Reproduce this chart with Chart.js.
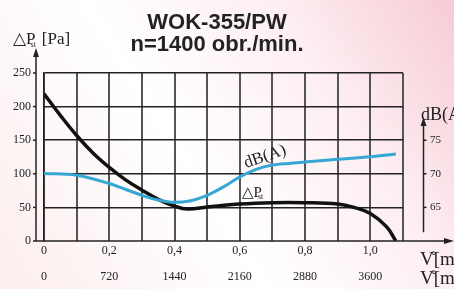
<!DOCTYPE html>
<html>
<head>
<meta charset="utf-8">
<script src="https://cdn.jsdelivr.net/npm/chart.js@4"></script>
<style>
  html, body { margin: 0; padding: 0; }
  #wrap { width: 454px; height: 289px; position: relative; }
</style>
</head>
<body>
<div id="wrap"><canvas id="chart"></canvas></div>
<script>
// flow [m3/s] and static pressure [Pa]
const flowPressure = [0, 0.05, 0.1, 0.15, 0.2, 0.25, 0.3, 0.35, 0.4, 0.44, 0.5, 0.6, 0.7, 0.8, 0.9, 0.95, 1.0, 1.05, 1.078];
const pressure = [219, 187, 157, 131, 109.5, 91, 75.7, 62, 52, 47.5, 50.5, 55, 57, 57, 55, 50, 41, 21, 0];

// flow [m3/s] and noise level [dB(A)]
const flowNoise = [0, 0.1, 0.2, 0.3, 0.35, 0.4, 0.45, 0.5, 0.55, 0.6, 0.65, 0.7, 0.75, 0.8, 0.9, 1.0, 1.078];
const noise = [70.05, 69.8, 68.55, 66.8, 66.1, 65.75, 66.0, 66.8, 68.05, 69.55, 70.65, 71.3, 71.55, 71.75, 72.15, 72.55, 72.95];

// tick labels
const flowLabels = ['0', '0,2', '0,4', '0,6', '0,8', '1,0'];
const flowHourLabels = ['0', '720', '1440', '2160', '2880', '3600'];
const noiseTicks = [65, 70, 75];

const serif = "'Liberation Serif', 'DejaVu Serif', serif";
const sans = "'Liberation Sans', Arial, sans-serif";

function toPoints(xs, ys) {
  return xs.map((x, i) => ({ x: x, y: ys[i] }));
}

const decor = {
  id: 'decor',
  beforeDraw(chart) {
    const ctx = chart.ctx;
    const w = chart.width, h = chart.height;
    const g = ctx.createLinearGradient(0, h, w, 0);
    g.addColorStop(0, '#fcedee');
    g.addColorStop(0.42, '#ffffff');
    g.addColorStop(0.72, '#fdeef1');
    g.addColorStop(1, '#f7cbd6');
    ctx.save();
    ctx.fillStyle = g;
    ctx.fillRect(0, 0, w, h);
    ctx.restore();
  },
  afterDraw(chart) {
    const ctx = chart.ctx;
    const a = chart.chartArea;
    const y = chart.scales.y, y2 = chart.scales.y2;
    const axX = a.left - 8;
    const base = y.getPixelForValue(0);
    ctx.save();
    ctx.strokeStyle = '#222';
    ctx.fillStyle = '#222';
    ctx.lineWidth = 1.5;

    // left axis with arrow
    ctx.beginPath();
    ctx.moveTo(axX, base);
    ctx.lineTo(axX, 52);
    ctx.stroke();
    ctx.beginPath();
    ctx.moveTo(axX, 48); ctx.lineTo(axX - 3, 57); ctx.lineTo(axX + 3, 57); ctx.closePath();
    ctx.fill();
    y.ticks.forEach(t => {
      const p = y.getPixelForValue(t.value);
      ctx.beginPath(); ctx.moveTo(axX - 3, p); ctx.lineTo(axX, p); ctx.stroke();
    });

    // bottom axis with arrow
    ctx.beginPath();
    ctx.moveTo(axX, base);
    ctx.lineTo(449, base);
    ctx.stroke();
    ctx.beginPath();
    ctx.moveTo(454, base); ctx.lineTo(444, base - 3); ctx.lineTo(444, base + 3); ctx.closePath();
    ctx.fill();

    // right dB axis with arrow
    const rx = a.right + 20.5;
    ctx.beginPath();
    ctx.moveTo(rx, y2.getPixelForValue(61.3));
    ctx.lineTo(rx, 122);
    ctx.stroke();
    ctx.beginPath();
    ctx.moveTo(rx, 117); ctx.lineTo(rx - 3, 126); ctx.lineTo(rx + 3, 126); ctx.closePath();
    ctx.fill();
    noiseTicks.forEach(v => {
      const p = y2.getPixelForValue(v);
      ctx.beginPath(); ctx.moveTo(rx, p); ctx.lineTo(rx + 3, p); ctx.stroke();
    });

    // titles
    ctx.textAlign = 'center';
    ctx.textBaseline = 'alphabetic';
    ctx.font = 'bold 22px ' + sans;
    ctx.fillText('WOK-355/PW', 217, 29);
    ctx.fillText('n=1400 obr./min.', 217, 51);

    // axis titles
    ctx.textAlign = 'left';
    ctx.font = '17px ' + serif;
    ctx.fillText('\u25B3P', 13, 44);
    let wP = ctx.measureText('\u25B3P').width;
    ctx.font = '8px ' + serif;
    ctx.fillText('st', 13 + wP - 5, 47);
    ctx.font = '17px ' + serif;
    ctx.fillText(' [Pa]', 13 + wP + 2, 44);

    ctx.font = '18px ' + serif;
    ctx.fillText('dB(A)', 421, 120);

    ctx.font = '19px ' + serif;
    ctx.fillText('V\u030A[m\u00B3/s]', 420, 265);
    ctx.fillText('V\u030A[m\u00B3/h]', 420, 284);

    // curve labels
    ctx.save();
    ctx.translate(246, 168);
    ctx.rotate(-0.33);
    ctx.font = '17px ' + serif;
    ctx.fillText('dB(A)', 0, 0);
    ctx.restore();

    ctx.font = '15px ' + serif;
    ctx.fillText('\u25B3P', 242, 197);
    wP = ctx.measureText('\u25B3P').width;
    ctx.font = '8px ' + serif;
    ctx.fillText('st', 242 + wP - 4, 199);
    ctx.restore();
  }
};

new Chart(document.getElementById('chart'), {
  type: 'line',
  data: {
    datasets: [
      {
        label: 'dB(A)',
        data: toPoints(flowNoise, noise),
        yAxisID: 'y2',
        borderColor: '#35a7d5',
        borderWidth: 3,
        pointRadius: 0,
        cubicInterpolationMode: 'monotone',
        fill: false
      },
      {
        label: 'Pst',
        data: toPoints(flowPressure, pressure),
        yAxisID: 'y',
        borderColor: '#111',
        borderWidth: 3.5,
        pointRadius: 0,
        tension: 0.4,
        fill: false
      }
    ]
  },
  options: {
    responsive: true,
    maintainAspectRatio: false,
    animation: false,
    events: [],
    layout: { padding: { top: 73, left: 0, right: 0, bottom: 0 } },
    plugins: { legend: { display: false }, title: { display: false }, tooltip: { enabled: false } },
    scales: {
      x: {
        type: 'linear',
        min: 0,
        max: 1.1,
        afterFit(s) { s.height = 48; },
        border: { display: false },
        grid: { color: '#555', lineWidth: 2, drawTicks: false },
        ticks: {
          stepSize: 0.1,
          autoSkip: false,
          maxRotation: 0,
          padding: -3,
          color: '#222',
          font: { family: serif, size: 12, lineHeight: 26 / 12 },
          callback(value, index) {
            if (index % 2 !== 0 || index / 2 >= flowLabels.length) return '';
            return [flowLabels[index / 2], flowHourLabels[index / 2]];
          }
        }
      },
      y: {
        position: 'left',
        min: 0,
        max: 250,
        afterFit(s) { s.width = 44; },
        border: { display: true, color: '#222', width: 1.5 },
        grid: { color: (c) => c.tick.value === 0 ? 'rgba(0,0,0,0)' : '#222', lineWidth: 1.5, drawTicks: false },
        ticks: {
          stepSize: 50,
          padding: 13,
          color: '#222',
          font: { family: serif, size: 12 }
        }
      },
      y2: {
        position: 'right',
        min: 60,
        max: 85,
        afterFit(s) { s.width = 51; },
        afterBuildTicks(s) { s.ticks = noiseTicks.map(v => ({ value: v })); },
        border: { display: false },
        grid: { display: false, drawTicks: false },
        ticks: {
          padding: 27,
          color: '#222',
          font: { family: serif, size: 11 }
        }
      }
    }
  },
  plugins: [decor]
});
</script>
</body>
</html>
